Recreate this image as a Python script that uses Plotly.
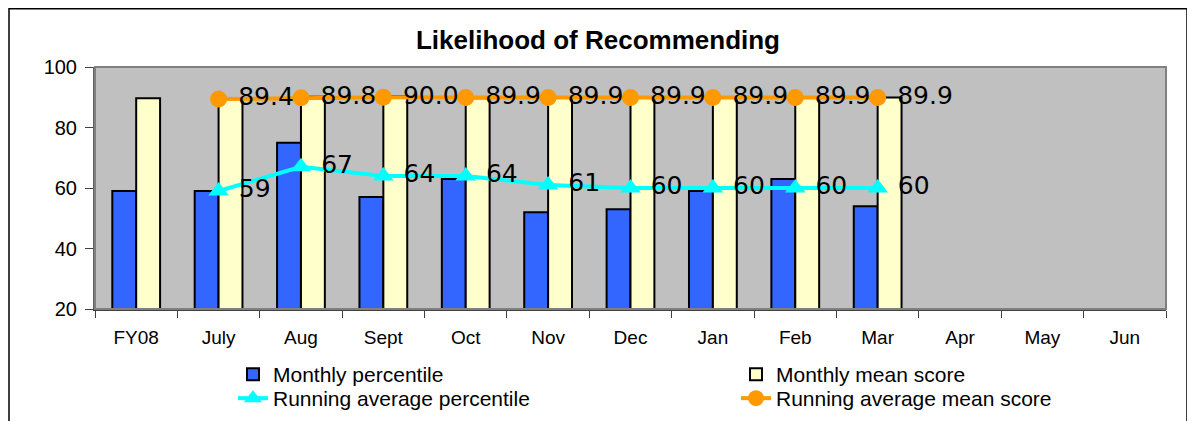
import plotly.graph_objects as go

categories = ["FY08", "July", "Aug", "Sept", "Oct", "Nov", "Dec", "Jan", "Feb", "Mar", "Apr", "May", "Jun"]
monthly_percentile = [59, 59, 75, 57, 63, 52, 53, 59, 63, 54]
monthly_mean_score = [89.7, 89.4, 90.2, 90.3, 89.7, 89.8, 89.9, 89.8, 89.9, 89.9]
running_cats = ["July", "Aug", "Sept", "Oct", "Nov", "Dec", "Jan", "Feb", "Mar"]
running_avg_percentile = [59, 67, 64, 64, 61, 60, 60, 60, 60]
running_avg_mean = [89.4, 89.8, 90.0, 89.9, 89.9, 89.9, 89.9, 89.9, 89.9]

# page body has an 8px margin, so figure coords = screen coords - 8
W, H = 1187, 413
L, R, T, B = 87, 29, 59, 112
pw, ph = W - L - R, H - T - B

label_font = dict(family="DejaVu Sans", size=25, color="black")

fig = go.Figure()
fig.add_trace(go.Bar(
    x=categories[:len(monthly_percentile)], y=monthly_percentile, name="Monthly percentile",
    marker=dict(color="#3366FF", line=dict(color="black", width=2)), legend="legend",
    showlegend=True))
fig.add_trace(go.Bar(
    x=categories[:len(monthly_mean_score)], y=monthly_mean_score, name="Monthly mean score",
    marker=dict(color="#FFFFCC", line=dict(color="black", width=2)), legend="legend2",
    showlegend=True))
fig.add_trace(go.Scatter(
    x=running_cats, y=running_avg_percentile, name="Running average percentile",
    mode="lines+markers+text", text=[f" {v:.0f}" for v in running_avg_percentile],
    textposition="middle right", textfont=label_font,
    line=dict(color="#00FFFF", width=4), marker=dict(symbol="triangle-up", size=18, color="#00FFFF"),
    cliponaxis=False, legend="legend3", showlegend=True))
fig.add_trace(go.Scatter(
    x=running_cats, y=running_avg_mean, name="Running average mean score",
    mode="lines+markers+text", text=[f" {v:.1f}" for v in running_avg_mean],
    textposition="middle right", textfont=label_font,
    line=dict(color="#FF9900", width=4), marker=dict(symbol="circle", size=17, color="#FF9900"),
    cliponaxis=False, legend="legend4", showlegend=True))

legend_common = dict(xref="container", yref="container", xanchor="left", yanchor="top",
                     orientation="v", font=dict(size=21), bgcolor="rgba(0,0,0,0)",
                     tracegroupgap=0, itemwidth=30, visible=True)
row1_y = 1 - 346 / H
row2_y = 1 - 370 / H

fig.update_layout(
    width=W, height=H,
    showlegend=True,
    margin=dict(l=L, r=R, t=T, b=B, autoexpand=False),
    paper_bgcolor="white", plot_bgcolor="#C0C0C0",
    font=dict(family="Liberation Sans, Arial", size=16, color="black"),
    title=dict(text="<b>Likelihood of Recommending</b>", x=(598 - 8) / W, xanchor="center",
               xref="container", yref="container",
               y=1 - 32 / H, yanchor="middle", font=dict(size=26, color="black")),
    barmode="group", bargap=0.42, bargroupgap=0,
    legend=dict(legend_common, x=225 / W, y=row1_y),
    legend2=dict(legend_common, x=728 / W, y=row1_y),
    legend3=dict(legend_common, x=225 / W, y=row2_y),
    legend4=dict(legend_common, x=728 / W, y=row2_y),
    xaxis=dict(categoryorder="array", categoryarray=categories, range=[-0.5, len(categories) - 0.5],
               tickson="boundaries", ticks="outside", ticklen=7, tickcolor="#404040",
               showline=True, linecolor="#404040", linewidth=2, mirror=False,
               showgrid=False, tickfont=dict(size=19), ticklabelstandoff=10),
    yaxis=dict(range=[20, 100], dtick=20, ticks="outside", ticklen=8, tickcolor="#404040",
               showline=True, linecolor="#606060", linewidth=2, showgrid=False,
               zeroline=False, tickfont=dict(size=20), ticklabelstandoff=4),
    shapes=[
        dict(type="rect", xref="paper", yref="paper", x0=0, x1=1, y0=0, y1=1,
             line=dict(color="#808080", width=2), layer="above"),
        dict(type="rect", xref="paper", yref="paper",
             x0=(1 - L) / pw, x1=(1179 - L) / pw, y0=-0.6, y1=(T + ph - 0.75) / ph,
             line=dict(color="black", width=1.5)),
    ],
)

fig.write_html("out.html")
